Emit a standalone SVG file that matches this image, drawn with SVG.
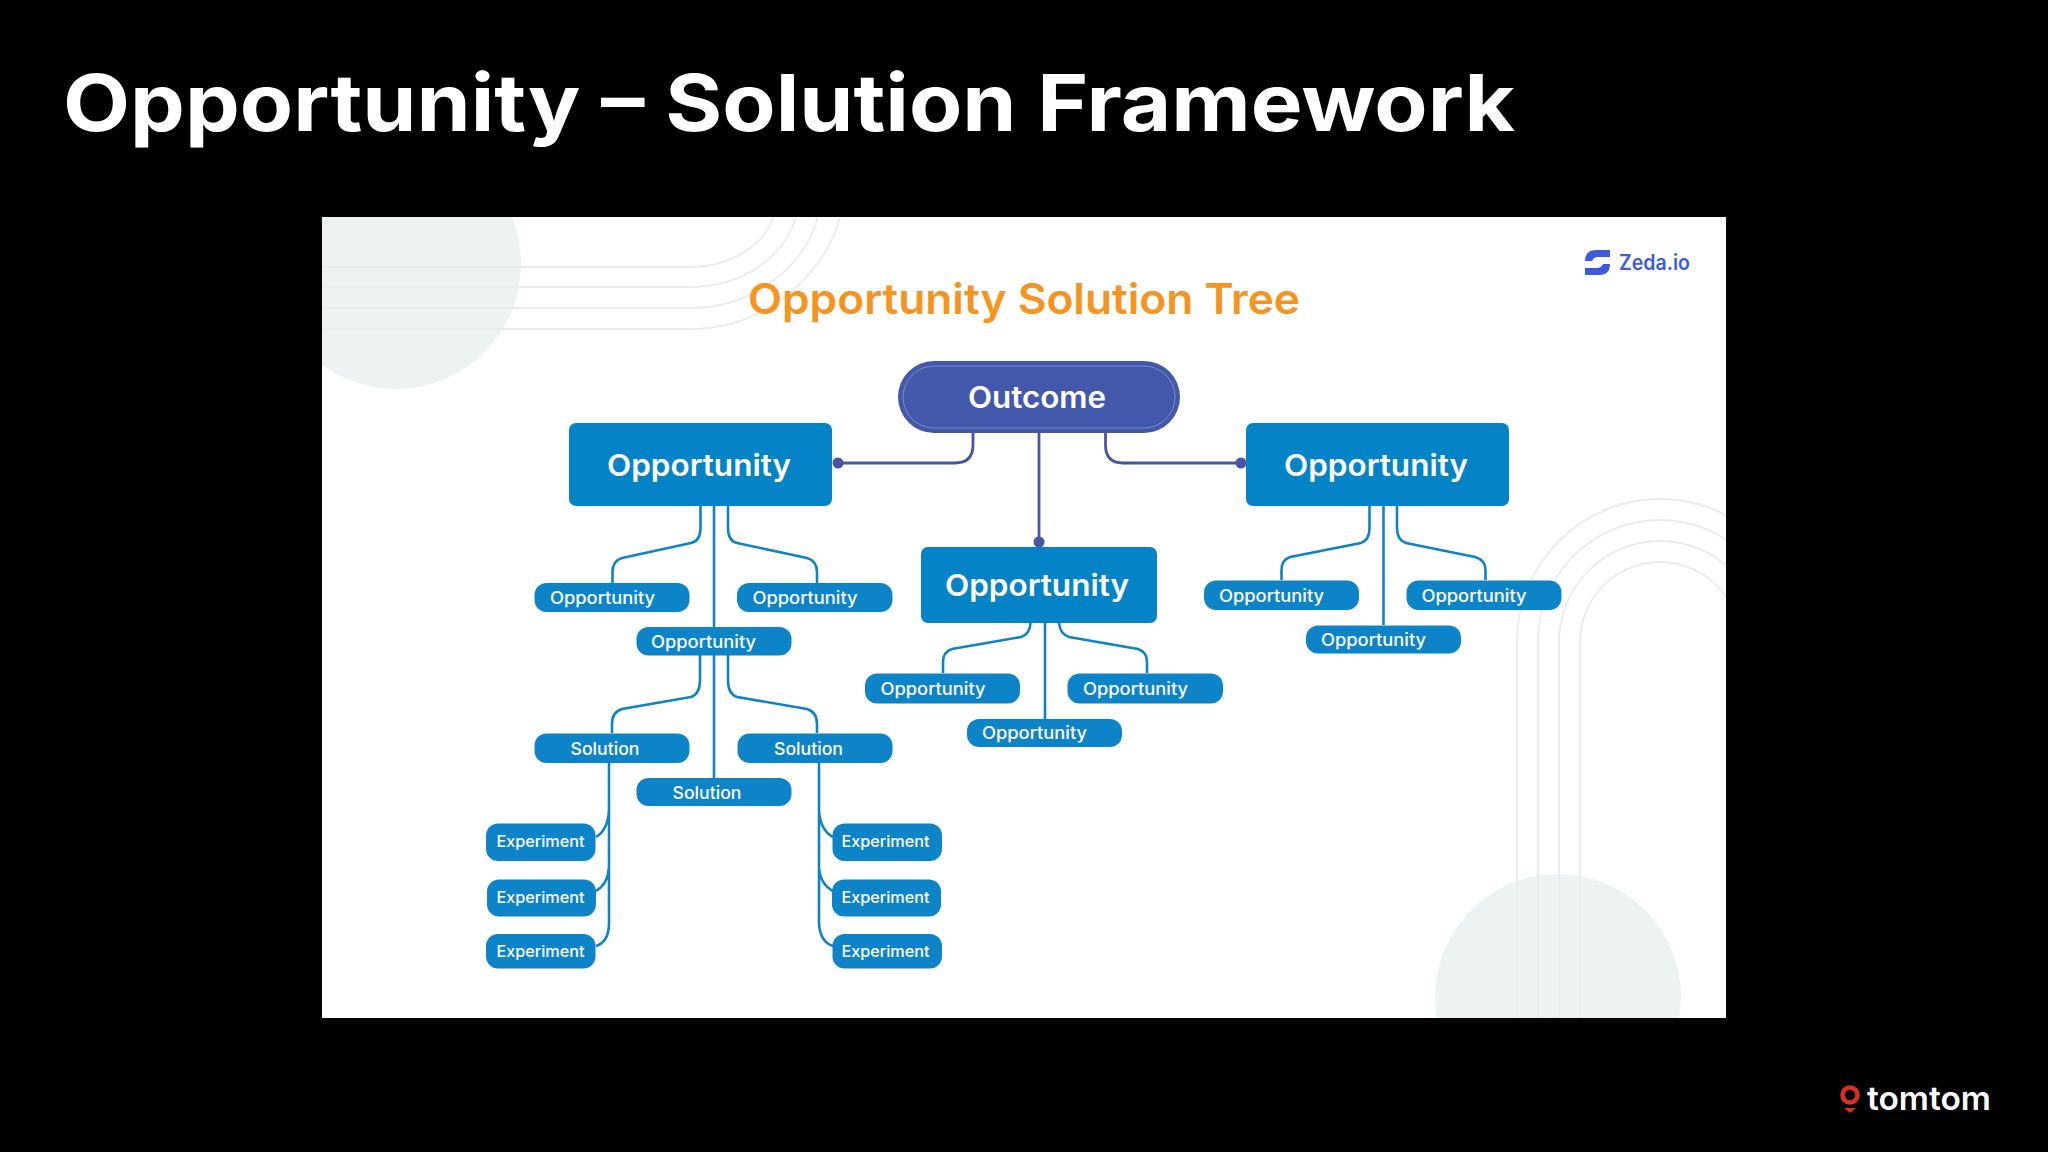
<svg xmlns="http://www.w3.org/2000/svg" width="2048" height="1152" viewBox="0 0 2048 1152">
<style>
text{font-family:"Inter","Noto Sans","Liberation Sans",sans-serif;}
.deco{fill:#edf3f2}
.arc{fill:none;stroke:#e8ecec;stroke-width:1.800}
.box{fill:#0484c7}
.pill{fill:#0e84c8}
.big{fill:#fff;font-size:30px;font-weight:600}
.sm{fill:#fff;font-size:17px;font-weight:500}
.exp{fill:#fff;font-size:16px;font-weight:500}
.con{fill:none;stroke:#0e84c4;stroke-width:2.6}
.pur{fill:none;stroke:#4655a5;stroke-width:2.8}
.dot{fill:#4655a5}
</style>
<defs><clipPath id="panel"><rect x="322" y="217" width="1404" height="801"/></clipPath></defs>
<rect width="2048" height="1152" fill="#000"/>
<text id="page-title" x="63" y="131" textLength="1452" lengthAdjust="spacingAndGlyphs" font-size="79" font-weight="700" fill="#fff">Opportunity – Solution Framework</text>
<rect id="slide" x="322" y="217" width="1404" height="801" fill="#fff"/>
<g id="decor" clip-path="url(#panel)">
<circle class="deco" cx="396" cy="264" r="125"/>
<circle class="deco" cx="1558" cy="997" r="123"/>
<path class="arc" d="M322 267H690C730 267 765 245 773 217"/>
<path class="arc" d="M322 287H690C745 287 785 255 796 217"/>
<path class="arc" d="M322 308H690C755 308 805 265 818 217"/>
<path class="arc" d="M322 329H690C765 329 825 275 840 217"/>
<path class="arc" d="M1517 1018V642A143 143 0 0 1 1803 642"/>
<path class="arc" d="M1538 1018V642A122 122 0 0 1 1782 642"/>
<path class="arc" d="M1559 1018V642A101 101 0 0 1 1761 642"/>
<path class="arc" d="M1580 1018V642A80 80 0 0 1 1740 642"/>
</g>
<text id="tree-title" x="748" y="314" textLength="552" lengthAdjust="spacingAndGlyphs" font-size="42" font-weight="600" fill="#f7941d">Opportunity Solution Tree</text>
<g id="zeda-logo">
<path d="M1585 261Q1585 250 1596 250H1610V257H1598Q1594 257 1592 261Z M1610 264Q1610 275 1599 275H1585V268H1597Q1601 268 1603 264Z" fill="#3c5bdc"/>
<text x="1619" y="270" textLength="71" lengthAdjust="spacingAndGlyphs" font-size="21" font-weight="600" fill="#3c5bdc">Zeda.io</text>
</g>
<g id="connectors">
<path class="pur" d="M973 433V445Q973 463 955 463H838"/>
<path class="pur" d="M1105.500 433V445Q1105.500 463 1123 463H1241"/>
<path class="pur" d="M1039 433V542"/>
<circle class="dot" cx="838" cy="463" r="5.500"/>
<circle class="dot" cx="1241" cy="463" r="5.500"/>
<circle class="dot" cx="1039" cy="542" r="5.500"/>
<path class="con" d="M700.500 506V528Q700.500 541 691 543L622 558Q612.500 561 612.500 572V583"/>
<path class="con" d="M728 506V528Q728 541 737 543L807 558Q817 561 817 572V583"/>
<path class="con" d="M714 506V627"/>
<path class="con" d="M700 655V680Q700 694 691 697L622 709Q612 712 612 724V733"/>
<path class="con" d="M728 655V680Q728 694 737 697L807 709Q817 712 817 724V733"/>
<path class="con" d="M714 655V778"/>
<path class="con" d="M1030.500 623Q1030 634 1021 637L952 649Q943 652 943 662V673"/>
<path class="con" d="M1059 623Q1060 634 1069 637L1138 649Q1147 652 1147 662V673"/>
<path class="con" d="M1045 623V719"/>
<path class="con" d="M1369.500 506V528Q1369.500 540 1361 543L1290 557Q1281.500 560 1281.500 570V580"/>
<path class="con" d="M1397 506V528Q1397 540 1406 543L1475 557Q1485.500 560 1485.500 570V580"/>
<path class="con" d="M1383.500 506V625"/>
<path class="con" d="M609 762V923Q609 942 596 946M609 810Q608 830 596 837M609 867Q608 884 596 891"/>
<path class="con" d="M819 762V923Q820 942 833 946M819 810Q820 830 833 837M819 867Q820 884 833 891"/>
</g>
<g id="outcome">
<rect x="898" y="361" width="282" height="72" rx="36" fill="#4358ab"/>
<rect x="903" y="366" width="272" height="62" rx="31" fill="none" stroke="#7d8cc8" stroke-width="1"/>
<text class="big" x="968" y="408" textLength="138" lengthAdjust="spacingAndGlyphs">Outcome</text>
</g>
<g id="opp-left"><rect class="box" x="569" y="423" width="263" height="83" rx="7"/><text class="big" x="607" y="476" textLength="184" lengthAdjust="spacingAndGlyphs">Opportunity</text></g>
<g id="opp-center"><rect class="box" x="921" y="547" width="236" height="76" rx="7"/><text class="big" x="945" y="596" textLength="184" lengthAdjust="spacingAndGlyphs">Opportunity</text></g>
<g id="opp-right"><rect class="box" x="1246" y="423" width="263" height="83" rx="7"/><text class="big" x="1284" y="476" textLength="184" lengthAdjust="spacingAndGlyphs">Opportunity</text></g>
<g id="l-opp-1"><rect class="pill" x="534.500" y="583" width="155" height="29" rx="12"/><text class="sm" x="550" y="603.500" textLength="105" lengthAdjust="spacingAndGlyphs">Opportunity</text></g>
<g id="l-opp-2"><rect class="pill" x="737" y="583" width="155.500" height="29" rx="12"/><text class="sm" x="752.500" y="603.500" textLength="105" lengthAdjust="spacingAndGlyphs">Opportunity</text></g>
<g id="l-opp-3"><rect class="pill" x="636.500" y="627" width="155" height="28.500" rx="12"/><text class="sm" x="651" y="647.500" textLength="105" lengthAdjust="spacingAndGlyphs">Opportunity</text></g>
<g id="c-opp-1"><rect class="pill" x="865" y="673.500" width="155" height="30" rx="12"/><text class="sm" x="880.500" y="694.500" textLength="105" lengthAdjust="spacingAndGlyphs">Opportunity</text></g>
<g id="c-opp-2"><rect class="pill" x="1067.500" y="673.500" width="155.500" height="30" rx="12"/><text class="sm" x="1083" y="694.500" textLength="105" lengthAdjust="spacingAndGlyphs">Opportunity</text></g>
<g id="c-opp-3"><rect class="pill" x="967" y="719" width="155" height="28" rx="12"/><text class="sm" x="982" y="738.500" textLength="105" lengthAdjust="spacingAndGlyphs">Opportunity</text></g>
<g id="r-opp-1"><rect class="pill" x="1204" y="580.500" width="155" height="29.500" rx="12"/><text class="sm" x="1219" y="601.500" textLength="105" lengthAdjust="spacingAndGlyphs">Opportunity</text></g>
<g id="r-opp-2"><rect class="pill" x="1406.500" y="580.500" width="155" height="29.500" rx="12"/><text class="sm" x="1421.500" y="601.500" textLength="105" lengthAdjust="spacingAndGlyphs">Opportunity</text></g>
<g id="r-opp-3"><rect class="pill" x="1306" y="625.500" width="155" height="28" rx="12"/><text class="sm" x="1321" y="646" textLength="105" lengthAdjust="spacingAndGlyphs">Opportunity</text></g>
<g id="sol-1"><rect class="pill" x="534.500" y="733.500" width="155" height="29.500" rx="12"/><text class="sm" x="570.500" y="755" textLength="69" lengthAdjust="spacingAndGlyphs">Solution</text></g>
<g id="sol-2"><rect class="pill" x="737.500" y="733.500" width="155" height="29.500" rx="12"/><text class="sm" x="774" y="754.500" textLength="69" lengthAdjust="spacingAndGlyphs">Solution</text></g>
<g id="sol-3"><rect class="pill" x="636.500" y="778" width="155" height="28" rx="12"/><text class="sm" x="672.500" y="799" textLength="69" lengthAdjust="spacingAndGlyphs">Solution</text></g>
<g id="exp-l1"><rect class="pill" x="486" y="823.500" width="109.500" height="37.500" rx="12"/><text class="exp" x="496.500" y="847" textLength="88" lengthAdjust="spacingAndGlyphs">Experiment</text></g>
<g id="exp-l2"><rect class="pill" x="487" y="879.500" width="109" height="37" rx="12"/><text class="exp" x="496.500" y="903" textLength="88" lengthAdjust="spacingAndGlyphs">Experiment</text></g>
<g id="exp-l3"><rect class="pill" x="486" y="934" width="109.500" height="34.500" rx="12"/><text class="exp" x="496.500" y="957" textLength="88" lengthAdjust="spacingAndGlyphs">Experiment</text></g>
<g id="exp-r1"><rect class="pill" x="832.500" y="823.500" width="109.500" height="37.500" rx="12"/><text class="exp" x="841.500" y="847" textLength="88" lengthAdjust="spacingAndGlyphs">Experiment</text></g>
<g id="exp-r2"><rect class="pill" x="832" y="879.500" width="109" height="37" rx="12"/><text class="exp" x="841.500" y="903" textLength="88" lengthAdjust="spacingAndGlyphs">Experiment</text></g>
<g id="exp-r3"><rect class="pill" x="832.500" y="934" width="109.500" height="34.500" rx="12"/><text class="exp" x="841.500" y="957" textLength="88" lengthAdjust="spacingAndGlyphs">Experiment</text></g>
<g id="tomtom-logo">
<circle cx="1850" cy="1095" r="7.500" fill="none" stroke="#d9301f" stroke-width="4.500"/>
<path d="M1844 1108H1856L1850 1113Z" fill="#d9301f"/>
<text x="1867" y="1110" textLength="124" lengthAdjust="spacingAndGlyphs" font-size="33" font-weight="600" fill="#fff">tomtom</text>
</g>
</svg>
